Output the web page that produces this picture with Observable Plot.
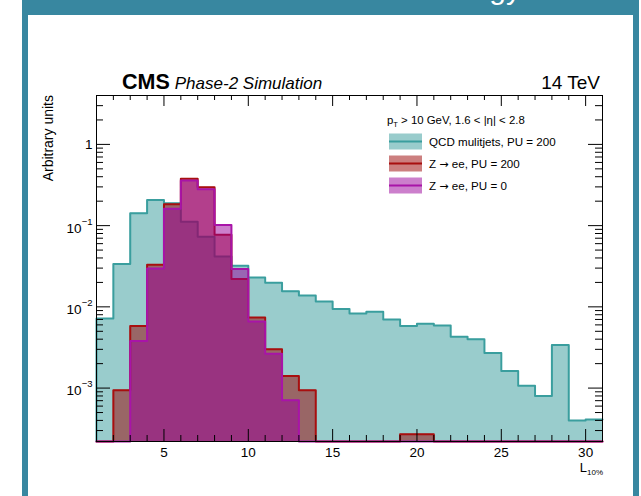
<!DOCTYPE html>
<html><head><meta charset="utf-8">
<script src="https://cdn.jsdelivr.net/npm/d3@7"></script>
<script src="https://cdn.jsdelivr.net/npm/@observablehq/plot@0.6"></script>
<style>
html,body{margin:0;padding:0;background:#fff;}
#chart{position:relative;width:641px;height:496px;overflow:hidden;}
#chart svg{display:block;}
</style></head><body><div id="chart"></div>
<script>
// ---- data ----
const binLowEdges = [1,2,3,4,5,6,7,8,9,10,11,12,13,14,15,16,17,18,19,20,21,22,23,24,25,26,27,28,29,30];
const binWidth = 1;
const qcdPU200 = [0.0072,0.0336,0.142,0.207,0.189,0.112,0.073,0.0418,0.032,0.023,0.0198,0.0156,0.0138,0.0116,0.0094,0.0083,0.0087,0.0070,0.0058,0.0062,0.0059,0.0043,0.0040,0.0027,0.00162,0.00107,0.00080,0.0034,0.00040,0.00041];
const zeePU200 = [0,0.00094,0.0058,0.033,0.183,0.377,0.297,0.0774,0.022,0.00738,0.0030,0.00141,0.00094,0,0,0,0,0,0.00027,0.00027,0,0,0,0,0,0,0,0,0,0];
const zeePU0   = [0,0,0.0038,0.0297,0.161,0.36,0.281,0.102,0.0292,0.0066,0.00265,0.00071,0,0,0,0,0,0,0,0,0,0,0,0,0,0,0,0,0,0];
const seriesNames = ["QCD mulitjets, PU = 200", "Z \u2192 ee, PU = 200", "Z \u2192 ee, PU = 0"];
const xTickLabels = [5,10,15,20,25,30];
const yTickValues = [1,0.1,0.01,0.001];
const yTickBase = ["1","10","10","10"];
const yTickExp = ["","\u22121","\u22122","\u22123"];

// ---- layout ----
const W = 641, H = 496, mL = 96, mR = 39, mT = 95, mB = 55;
const pw = W - mL - mR, ph = H - mT - mB;
const xDomain = [1, 31], yDomain = [2.2e-4, 4];
const fillCols = ["#339999", "#990000", "#990099"];
const lineCols = ["#3a9e9e", "#a80f0f", "#a814a8"];
const FONT = "'Liberation Sans', Arial, Helvetica, sans-serif";

function steps(vals) {
  const pts = [{x: binLowEdges[0], y: yDomain[0]}];
  vals.forEach((v, i) => pts.push({x: binLowEdges[i], y: Math.max(v, yDomain[0])}));
  const n = vals.length - 1;
  pts.push({x: binLowEdges[n] + binWidth, y: Math.max(vals[n], yDomain[0])});
  return pts;
}
const series = [qcdPU200, zeePU200, zeePU0].map(steps);

const xMajor = xTickLabels;
const xMinor = d3.range(2, 31).filter(v => v % 5 !== 0);
const yMajor = [], yMinor = [];
for (let e = -4; e <= 0; e++) for (let m = 1; m <= 9; m++) {
  const v = +(m * Math.pow(10, e)).toPrecision(6);
  if (v >= yDomain[0] && v <= yDomain[1]) (m === 1 ? yMajor : yMinor).push(v);
}
const yTickTable = yTickValues.map((v, i) => ({v, base: yTickBase[i], exp: yTickExp[i]}));

const histMarks = [];
series.forEach((pts, i) => {
  histMarks.push(Plot.areaY(pts, {x: "x", y1: yDomain[0], y2: "y", curve: "step-after", fill: fillCols[i], fillOpacity: 0.5}));
  histMarks.push(Plot.lineY(pts, {x: "x", y: "y", curve: "step-after", stroke: lineCols[i], strokeWidth: 2}));
});

const XT = 12, xt = 6, YT = 14, yt = 7;
const plot = Plot.plot({
  width: W, height: H, marginLeft: mL, marginRight: mR, marginTop: mT, marginBottom: mB,
  x: {domain: xDomain, axis: null},
  y: {type: "log", domain: yDomain, axis: null},
  style: {fontFamily: FONT, background: "transparent", overflow: "visible"},
  marks: [
    ...histMarks,
    Plot.frame({stroke: "#000", strokeWidth: 1}),
    // bottom / top ticks (inside)
    Plot.ruleX(xMajor, {x: d => d, insetTop: ph - XT, stroke: "#000"}),
    Plot.ruleX(xMinor, {x: d => d, insetTop: ph - xt, stroke: "#000"}),
    Plot.ruleX(xMajor, {x: d => d, insetBottom: ph - XT + 1, stroke: "#000"}),
    Plot.ruleX(xMinor, {x: d => d, insetBottom: ph - xt + 1, stroke: "#000"}),
    // left / right ticks
    Plot.ruleY(yMajor, {y: d => d, insetRight: pw - YT, stroke: "#000"}),
    Plot.ruleY(yMinor, {y: d => d, insetRight: pw - yt, stroke: "#000"}),
    Plot.ruleY(yMajor, {y: d => d, insetLeft: pw - YT, stroke: "#000"}),
    Plot.ruleY(yMinor, {y: d => d, insetLeft: pw - yt, stroke: "#000"}),
    // tick labels
    Plot.text(xTickLabels, {x: d => d, y: yDomain[0], text: d => String(d), lineAnchor: "top", dy: 6, fontSize: 13.5, fill: "#000"}),
    Plot.text(yTickTable.filter(d => d.exp === ""), {x: xDomain[0], y: "v", text: "base", textAnchor: "end", dx: -4, fontSize: 13.5, fill: "#000"}),
    Plot.text(yTickTable.filter(d => d.exp !== ""), {x: xDomain[0], y: "v", text: "base", textAnchor: "end", dx: -15, dy: 3, fontSize: 13.5, fill: "#000"}),
    Plot.text(yTickTable.filter(d => d.exp !== ""), {x: xDomain[0], y: "v", text: "exp", textAnchor: "end", dx: -4, dy: -4, fontSize: 9.5, fill: "#000"})
  ]
});

const svg = d3.select(plot);
// slide frame
const TEAL = "#3887a0";
svg.insert("rect", ":first-child").attr("x", 22).attr("y", 0).attr("width", 617).attr("height", 15).attr("fill", TEAL);
svg.insert("rect", ":first-child").attr("x", 22).attr("y", 0).attr("width", 6).attr("height", H).attr("fill", TEAL);
svg.insert("rect", ":first-child").attr("x", 633).attr("y", 0).attr("width", 6).attr("height", H).attr("fill", TEAL);
svg.append("text").attr("x", 521).attr("y", -1).attr("text-anchor", "end").attr("font-size", 30).attr("fill", "#fff").attr("font-family", FONT).text("technology");

// titles
const t1 = svg.append("text").attr("x", 122).attr("y", 88.5).attr("text-anchor", "start").attr("font-family", FONT).attr("fill", "#000");
t1.append("tspan").attr("font-weight", "bold").attr("font-size", 21.5).text("CMS");
t1.append("tspan").attr("font-style", "italic").attr("font-size", 17).attr("dx", 5).text("Phase-2 Simulation");
svg.append("text").attr("x", 600).attr("y", 88.5).attr("text-anchor", "end").attr("font-size", 19).attr("font-family", FONT).attr("fill", "#000").text("14 TeV");

// axis titles
svg.append("text").attr("transform", "translate(53,95) rotate(-90)").attr("text-anchor", "end").attr("font-size", 14).attr("font-family", FONT).attr("fill", "#000").text("Arbitrary units");
const xt1 = svg.append("text").attr("x", 603).attr("y", 471.5).attr("text-anchor", "end").attr("font-family", FONT).attr("fill", "#000");
xt1.append("tspan").attr("font-size", 13).text("L");
xt1.append("tspan").attr("font-size", 8).attr("dy", 3).text("10%");

// legend
const lg = svg.append("g").attr("font-family", FONT).attr("fill", "#000").attr("text-anchor", "start");
const hdr = lg.append("text").attr("x", 387).attr("y", 124).attr("font-size", 11.4);
hdr.append("tspan").text("p");
hdr.append("tspan").attr("font-size", 7.5).attr("dy", 3).text("T");
hdr.append("tspan").attr("dy", -3).text(" > 10 GeV, 1.6 < |\u03b7| < 2.8");
seriesNames.forEach((name, i) => {
  const cy = 141.5 + i * 22;
  lg.append("rect").attr("x", 389).attr("y", cy - 8).attr("width", 33).attr("height", 16).attr("fill", fillCols[i]).attr("fill-opacity", 0.5);
  lg.append("line").attr("x1", 389).attr("x2", 422).attr("y1", cy).attr("y2", cy).attr("stroke", lineCols[i]).attr("stroke-width", 2);
  const t = lg.append("text").attr("x", 429).attr("y", cy + 4).attr("font-size", 11.6);
  name.split(/(\u2192)/).forEach(part => {
    const ts = t.append("tspan").text(part);
    if (part === "\u2192") ts.attr("font-family", "'DejaVu Sans', sans-serif").attr("font-size", 11);
  });
});

document.getElementById("chart").appendChild(plot);
</script></body></html>
